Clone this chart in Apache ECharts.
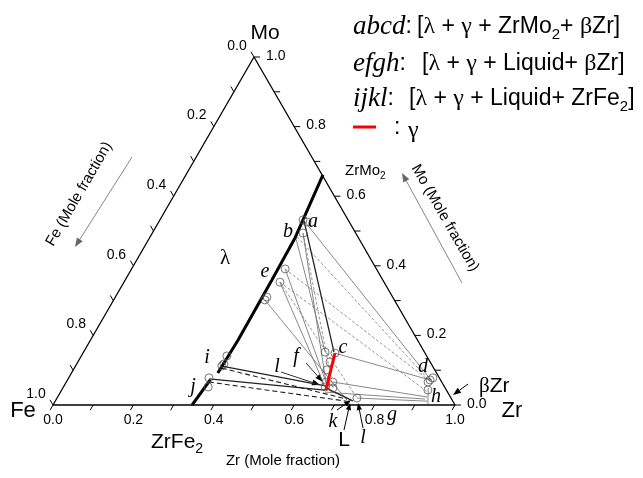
<!DOCTYPE html>
<html>
<head>
<meta charset="utf-8">
<script src="https://cdn.jsdelivr.net/npm/echarts@6/dist/echarts.min.js"></script>
<style>
  html, body { margin: 0; padding: 0; background: #fff; }
  #main { width: 643px; height: 478px; }
</style>
</head>
<body>
<div id="main"></div>
<script>
// Fe–Mo–Zr isothermal section. Compositions are written as [x_Zr, x_Mo]; x_Fe = 1 - x_Zr - x_Mo.
const H = Math.sqrt(3) / 2;
const tern = c => [c[0] + c[1] / 2, c[1] * H];

// axis ticks (mole fraction) and their labels
const axisTicks = [0, 0.1, 0.2, 0.3, 0.4, 0.5, 0.6, 0.7, 0.8, 0.9, 1.0];
const majorTicks = [0, 0.2, 0.4, 0.6, 0.8, 1.0];
const tickLabels = ['0.0', '0.2', '0.4', '0.6', '0.8', '1.0'];

// λ (Laves) phase boundary, Zr-rich side
const lambdaLower = [[0.346, 0.000], [0.355, 0.072]];
const lambdaUpper = [[0.364, 0.092], [0.367, 0.187], [0.365, 0.359], [0.362, 0.480], [0.341, 0.661]];

// γ phase composition range
const gammaRange = [[0.627, 0.149], [0.657, 0.043]];

// measured phase compositions (open circles)
const measured = [
  [0.356, 0.532], [0.369, 0.526], [0.375, 0.494], [0.382, 0.391], [0.388, 0.353],
  [0.376, 0.302], [0.377, 0.310], [0.601, 0.152], [0.627, 0.149], [0.627, 0.124],
  [0.631, 0.101], [0.646, 0.066], [0.663, 0.066], [0.651, 0.052], [0.672, 0.049],
  [0.746, 0.020], [0.362, 0.141], [0.364, 0.112], [0.366, 0.118], [0.349, 0.078],
  [0.360, 0.052], [0.902, 0.072], [0.906, 0.078], [0.900, 0.066], [0.911, 0.043]
];

// tie-lines between coexisting phases
const tieDark = [
  [[0.360, 0.529], [0.623, 0.152]],
  [[0.364, 0.112], [0.650, 0.055]],
  [[0.351, 0.075], [0.655, 0.043]],
  [[0.652, 0.050], [0.740, 0.012]]
];
const tieDarkDashed = [
  [[0.367, 0.106], [0.722, 0.017]],
  [[0.355, 0.066], [0.725, 0.011]]
];
const tieGray = [
  [[0.364, 0.526], [0.904, 0.072]],
  [[0.627, 0.149], [0.902, 0.072]],
  [[0.364, 0.480], [0.601, 0.152]],
  [[0.375, 0.494], [0.646, 0.066]],
  [[0.382, 0.391], [0.646, 0.066]],
  [[0.388, 0.353], [0.651, 0.052]],
  [[0.663, 0.066], [0.919, 0.023]],
  [[0.658, 0.037], [0.917, 0.017]],
  [[0.746, 0.020], [0.925, 0.011]],
  [[0.376, 0.302], [0.724, 0.014]],
  [[0.909, 0.049], [0.931, 0.003]]
];
const tieGrayDashed = [
  [[0.366, 0.483], [0.907, 0.066]],
  [[0.382, 0.391], [0.907, 0.066]],
  [[0.388, 0.353], [0.914, 0.037]],
  [[0.375, 0.494], [0.672, 0.049]],
  [[0.388, 0.353], [0.746, 0.020]]
];

const SANS = '"Liberation Sans", Arial, sans-serif';
const SERIF = '"Liberation Serif", "Times New Roman", serif';

function segSeries(segs, color, width, dash, z) {
  return {
    type: 'custom',
    coordinateSystem: 'cartesian2d',
    silent: true,
    z: z || 2,
    data: segs.map(s => tern(s[0]).concat(tern(s[1]))),
    encode: { x: [0, 2], y: [1, 3] },
    renderItem: (params, api) => {
      const p1 = api.coord([api.value(0), api.value(1)]);
      const p2 = api.coord([api.value(2), api.value(3)]);
      return {
        type: 'line',
        shape: { x1: p1[0], y1: p1[1], x2: p2[0], y2: p2[1] },
        style: { stroke: color, lineWidth: width, lineDash: dash || null }
      };
    }
  };
}

function polyline(points, color, width, z) {
  return {
    type: 'line', data: points.map(tern), symbol: 'none', clip: false, silent: true,
    lineStyle: { color: color, width: width }, z: z || 3, animation: false
  };
}

// ternary frame ticks and labels
const tickSeries = {
  type: 'custom',
  coordinateSystem: 'cartesian2d',
  silent: true,
  z: 5,
  data: axisTicks.map(t => [t, 0]),
  encode: { x: 0, y: 1 },
  renderItem: (params, api) => {
    const t = axisTicks[params.dataIndex];
    const len = 6;
    const b = api.coord(tern([t, 0]));       // Zr axis (bottom)
    const r = api.coord(tern([1 - t, t]));   // Mo axis (right)
    const l = api.coord(tern([0, 1 - t]));   // Fe axis (left)
    const st = { stroke: '#000', lineWidth: 1 };
    const kids = [
      { type: 'line', shape: { x1: b[0], y1: b[1], x2: b[0] - 0.5 * len, y2: b[1] + H * len }, style: st },
      { type: 'line', shape: { x1: r[0], y1: r[1], x2: r[0] + len, y2: r[1] }, style: st },
      { type: 'line', shape: { x1: l[0], y1: l[1], x2: l[0] - 0.5 * len, y2: l[1] - H * len }, style: st }
    ];
    const mi = majorTicks.findIndex(m => Math.abs(m - t) < 1e-9);
    if (mi >= 0) {
      const txt = tickLabels[mi];
      const font = '14px ' + SANS;
      kids.push({ type: 'text', style: { text: txt, x: b[0], y: b[1] + 15, font, fill: '#000', align: 'center', verticalAlign: 'middle' } });
      kids.push({ type: 'text', style: { text: txt, x: r[0] + 12, y: r[1] - 1, font, fill: '#000', align: 'left', verticalAlign: 'middle' } });
      kids.push({ type: 'text', style: { text: txt, x: l[0] - 17, y: l[1] - 11, font, fill: '#000', align: 'center', verticalAlign: 'middle' } });
    }
    return { type: 'group', children: kids };
  }
};

function arrow(x1, y1, x2, y2, color, w, hl) {
  const ang = Math.atan2(y2 - y1, x2 - x1);
  const hw = hl * 0.38;
  const bx = x2 - hl * Math.cos(ang), by = y2 - hl * Math.sin(ang);
  const px = -Math.sin(ang) * hw, py = Math.cos(ang) * hw;
  return {
    type: 'group', silent: true, children: [
      { type: 'line', shape: { x1, y1, x2: bx, y2: by }, style: { stroke: color, lineWidth: w } },
      { type: 'polygon', shape: { points: [[x2, y2], [bx + px, by + py], [bx - px, by - py]] }, style: { fill: color } }
    ]
  };
}

function txt(text, x, y, font, extra) {
  return Object.assign({
    type: 'text', silent: true, z: 10,
    style: { text, x, y, font, fill: '#000', align: 'center', verticalAlign: 'middle' }
  }, extra || {});
}

function rich(text, x, y, richStyles, align) {
  return {
    type: 'text', silent: true, z: 10,
    style: { text, x, y, fill: '#000', align: align || 'left', verticalAlign: 'middle', rich: richStyles, font: '20px ' + SANS }
  };
}

const legendRich = {
  n: { fontSize: 23, fontFamily: SANS, lineHeight: 28 },
  it: { fontSize: 27, fontFamily: SERIF, fontStyle: 'italic', lineHeight: 28 },
  g: { fontSize: 24, fontFamily: SERIF, lineHeight: 28 },
  sub: { fontSize: 15, fontFamily: SANS, lineHeight: 28, padding: [16, 0, 0, 0] }
};
const labelRich = {
  n: { fontSize: 21, fontFamily: SANS, lineHeight: 26 },
  s: { fontSize: 15, fontFamily: SANS, lineHeight: 20 },
  sub: { fontSize: 14, fontFamily: SANS, lineHeight: 26, padding: [14, 0, 0, 0] },
  ssub: { fontSize: 10, fontFamily: SANS, lineHeight: 20, padding: [10, 0, 0, 0] },
  g: { fontSize: 21, fontFamily: SERIF, lineHeight: 26 }
};

const itFont = 'italic 20px ' + SERIF;

const chart = echarts.init(document.getElementById('main'));
chart.setOption({
  animation: false,
  backgroundColor: '#fff',
  grid: { left: 53, top: 57, width: 402, height: 348 },
  xAxis: { type: 'value', min: 0, max: 1, show: false },
  yAxis: { type: 'value', min: 0, max: H, show: false },
  series: [
    polyline([[0, 0], [1, 0], [0, 1], [0, 0]], '#000', 1.3, 4),
    segSeries(tieGrayDashed, '#8a8a8a', 0.9, [3, 2], 2),
    segSeries(tieGray, '#7a7a7a', 0.9, null, 2),
    segSeries(tieDarkDashed, '#222', 1.1, [5, 3], 3),
    segSeries(tieDark, '#222', 1.3, null, 3),
    polyline(lambdaLower, '#000', 3, 4),
    polyline(lambdaUpper, '#000', 3, 4),
    polyline(gammaRange, '#ff0000', 3, 6),
    {
      type: 'scatter', data: measured.map(tern), symbol: 'circle', symbolSize: 8,
      clip: false, silent: true, z: 5,
      itemStyle: { color: 'rgba(255,255,255,0)', borderColor: '#555', borderWidth: 1 }
    },
    tickSeries
  ],
  graphic: [
    // vertex and axis names
    txt('Mo', 265, 33, '21px ' + SANS),
    txt('Fe', 23, 411, '22px ' + SANS),
    txt('Zr', 512, 411, '22px ' + SANS),
    rich('{n|ZrFe}{sub|2}', 151, 442, labelRich),
    txt('Zr (Mole fraction)', 283, 461, '15px ' + SANS),
    txt('Fe (Mole fraction)', 0, 0, '15px ' + SANS, { x: 79, y: 194, rotation: Math.PI / 3 }),
    txt('Mo (Mole fraction)', 0, 0, '15px ' + SANS, { x: 445, y: 218, rotation: -Math.PI / 3 }),
    arrow(132, 157, 75, 247, '#666', 0.8, 9),
    arrow(462, 283, 402, 173, '#666', 0.8, 9),
    rich('{s|ZrMo}{ssub|2}', 345, 171, labelRich),
    txt('λ', 225, 258, '21px ' + SERIF),
    txt('L', 344, 440, '21px ' + SANS),
    rich('{g|β}{n|Zr}', 479, 386, labelRich),
    arrow(468, 384, 453, 395, '#000', 1, 8),
    // point letters
    txt('a', 313, 222, itFont), txt('b', 288, 232, itFont), txt('c', 343, 348, itFont),
    txt('d', 423, 367, itFont), txt('e', 265, 272, itFont), txt('f', 296, 357, itFont),
    txt('g', 392, 415, itFont), txt('h', 436, 397, itFont), txt('i', 207, 358, itFont),
    txt('j', 193, 387, itFont), txt('k', 333, 422, itFont), txt('l', 277, 367, itFont),
    txt('l', 363, 438, itFont),
    arrow(306, 363, 323, 382, '#000', 0.8, 8),
    arrow(281, 372, 320, 385, '#000', 0.8, 8),
    arrow(337, 410, 351, 400, '#000', 1, 7),
    arrow(344, 430, 350, 403, '#000', 1, 7),
    arrow(363, 428, 358, 403, '#000', 1, 7),
    // legend
    rich('{it|abcd}{n|:}', 353, 27, legendRich),
    rich('{n|[}{g|λ}{n| + }{g|γ}{n| + ZrMo}{sub|2}{n|+ }{g|β}{n|Zr]}', 417, 27, legendRich),
    rich('{it|efgh}{n|:}', 353, 64, legendRich),
    rich('{n|[}{g|λ}{n| + }{g|γ}{n| + Liquid+ }{g|β}{n|Zr]}', 422, 64, legendRich),
    rich('{it|ijkl}{n|:}', 353, 99, legendRich),
    rich('{n|[}{g|λ}{n| + }{g|γ}{n| + Liquid+ ZrFe}{sub|2}{n|]}', 409, 99, legendRich),
    { type: 'line', silent: true, shape: { x1: 353, y1: 127, x2: 376, y2: 127 }, style: { stroke: '#ff0000', lineWidth: 3 } },
    rich('{n|:}', 394, 128, legendRich),
    rich('{g|γ}', 408, 131, legendRich)
  ]
});
</script>
</body>
</html>
